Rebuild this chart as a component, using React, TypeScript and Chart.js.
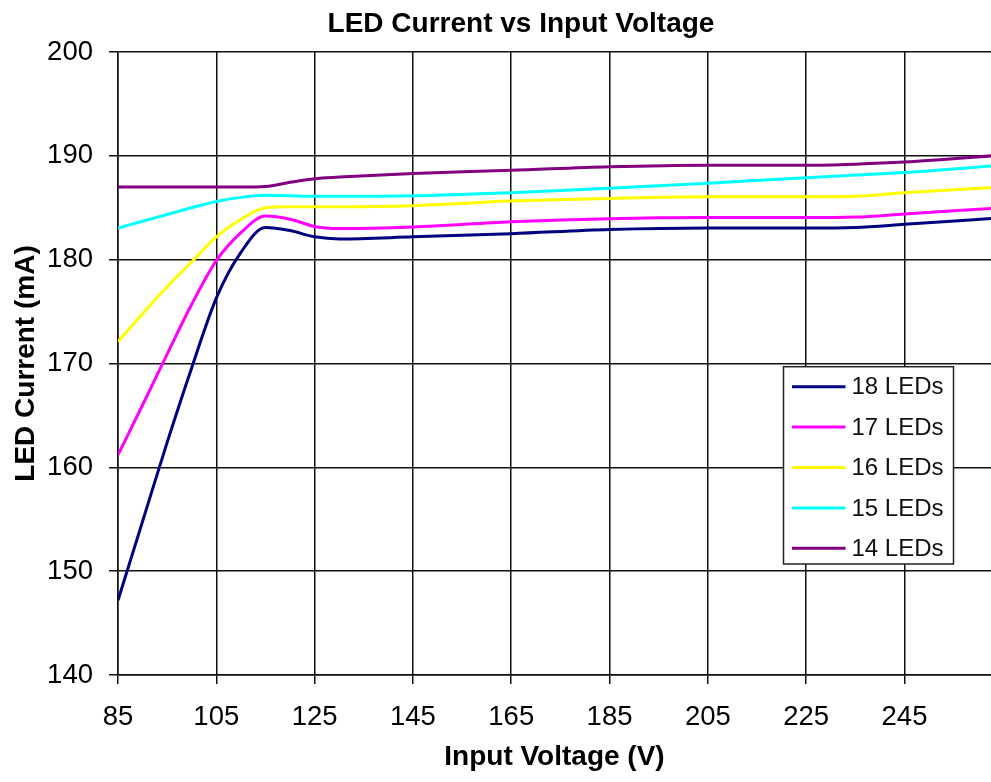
import React, { useEffect, useRef } from "react";
import { Chart, registerables } from "chart.js";

Chart.register(...registerables);

const chartTitle = "LED Current vs Input Voltage";
const xAxisTitle = "Input Voltage (V)";
const yAxisTitle = "LED Current (mA)";

const voltages = [85, 90, 95, 100, 105, 110, 115, 120, 125, 130, 145, 165, 185, 205, 225, 235, 245, 265];
const led18 = [147.2, 154.8, 162.4, 169.6, 176.3, 180.7, 183.1, 182.8, 182.2, 182.0, 182.2, 182.5, 182.9, 183.05, 183.05, 183.1, 183.4, 184.05];
const led17 = [161.2, 166.0, 170.9, 175.7, 179.9, 182.6, 184.2, 183.9, 183.2, 183.0, 183.15, 183.65, 183.95, 184.05, 184.05, 184.1, 184.4, 185.0];
const led16 = [172.1, 174.8, 177.4, 179.8, 182.2, 183.9, 185.0, 185.1, 185.1, 185.1, 185.2, 185.65, 185.9, 186.05, 186.05, 186.1, 186.45, 187.0];
const led15 = [183.05, 183.7, 184.35, 185.0, 185.6, 186.0, 186.2, 186.15, 186.1, 186.1, 186.15, 186.45, 186.87, 187.35, 187.9, 188.15, 188.4, 189.1];
const led14 = [187.0, 187.0, 187.0, 187.0, 187.0, 187.0, 187.05, 187.45, 187.8, 187.95, 188.3, 188.6, 188.95, 189.1, 189.1, 189.2, 189.4, 190.08];

const seriesLabels = ["18 LEDs", "17 LEDs", "16 LEDs", "15 LEDs", "14 LEDs"];
const seriesColors = ["#000080", "#FF00FF", "#FFFF00", "#00FFFF", "#800080"];
const seriesValues = [led18, led17, led16, led15, led14];

const xTicks = [85, 105, 125, 145, 165, 185, 205, 225, 245];
const yTicks = [140, 150, 160, 170, 180, 190, 200];
const xMin = 85;
const xMax = 262.6;
const yMin = 140;
const yMax = 200;

const FONT = "'Liberation Sans', Arial, Helvetica, sans-serif";
const GRID = "#111111";

const titlePlugin = {
  id: "customTitle",
  afterDraw(chart: any) {
    const { ctx } = chart;
    ctx.save();
    ctx.font = `bold 28px ${FONT}`;
    ctx.fillStyle = "#000";
    ctx.textAlign = "center";
    ctx.textBaseline = "alphabetic";
    ctx.fillText(chartTitle, 521, 32);
    ctx.restore();
  },
};

const legendPlugin = {
  id: "boxLegend",
  afterDraw(chart: any) {
    const { ctx, chartArea } = chart;
    const x0 = chartArea.right - 207.5;
    const y0 = chartArea.top + 314.7;
    const w = 170;
    const h = 197.3;
    ctx.save();
    ctx.fillStyle = "#ffffff";
    ctx.fillRect(x0, y0, w, h);
    ctx.strokeStyle = "#222";
    ctx.lineWidth = 1.5;
    ctx.strokeRect(x0, y0, w, h);
    chart.data.datasets.forEach((ds: any, i: number) => {
      const y = y0 + 20 + i * 40.4;
      ctx.strokeStyle = ds.borderColor;
      ctx.lineWidth = 3;
      ctx.beginPath();
      ctx.moveTo(x0 + 8.5, y);
      ctx.lineTo(x0 + 62, y);
      ctx.stroke();
      ctx.fillStyle = "#111";
      ctx.font = `24px ${FONT}`;
      ctx.textAlign = "left";
      ctx.textBaseline = "middle";
      ctx.fillText(ds.label, x0 + 68, y + 1);
    });
    ctx.restore();
  },
};

export default function App() {
  const ref = useRef<HTMLCanvasElement>(null);

  useEffect(() => {
    document.body.style.margin = "0";
    const canvas = ref.current;
    if (!canvas) return;
    const chart = new Chart(canvas, {
      type: "line",
      data: {
        datasets: seriesLabels.map((label, i) => ({
          label,
          data: voltages.map((v, j) => ({ x: v, y: seriesValues[i][j] })),
          borderColor: seriesColors[i],
          backgroundColor: seriesColors[i],
          borderWidth: 3,
          pointRadius: 0,
          pointHoverRadius: 0,
          fill: false,
          cubicInterpolationMode: "monotone" as const,
        })),
      },
      options: {
        responsive: false,
        animation: false,
        layout: { padding: { top: 52, left: 0, right: 0, bottom: 0 } },
        plugins: {
          legend: { display: false },
          title: { display: false },
          tooltip: { enabled: false },
        },
        scales: {
          x: {
            type: "linear",
            min: xMin,
            max: xMax,
            afterBuildTicks: (scale: any) => {
              scale.ticks = xTicks.map((v) => ({ value: v }));
            },
            afterFit: (scale: any) => {
              scale.height = 107;
            },
            grid: { color: GRID, lineWidth: 1.5, tickLength: 9, drawTicks: true },
            border: { color: GRID, width: 1.5 },
            ticks: {
              font: { family: FONT, size: 27.5 },
              color: "#000",
              padding: 17,
              maxRotation: 0,
              autoSkip: false,
            },
            title: {
              display: true,
              text: xAxisTitle,
              font: { family: FONT, size: 28, weight: "bold" },
              color: "#000",
              padding: { top: 0, bottom: 8 },
            },
          },
          y: {
            type: "linear",
            min: yMin,
            max: yMax,
            afterBuildTicks: (scale: any) => {
              scale.ticks = yTicks.map((v) => ({ value: v }));
            },
            afterFit: (scale: any) => {
              scale.width = 118;
            },
            grid: { color: GRID, lineWidth: 1.5, tickLength: 9, drawTicks: true },
            border: { color: GRID, width: 1.5 },
            ticks: {
              font: { family: FONT, size: 27.5 },
              color: "#000",
              padding: 16,
              autoSkip: false,
            },
            title: {
              display: true,
              text: yAxisTitle,
              font: { family: FONT, size: 28, weight: "bold" },
              color: "#000",
              padding: { top: 9, bottom: 0 },
            },
          },
        },
      },
      plugins: [titlePlugin, legendPlugin],
    });
    return () => chart.destroy();
  }, []);

  return (
    <div style={{ width: 991, height: 782 }}>
      <canvas ref={ref} width={991} height={782} style={{ display: "block" }} />
    </div>
  );
}
